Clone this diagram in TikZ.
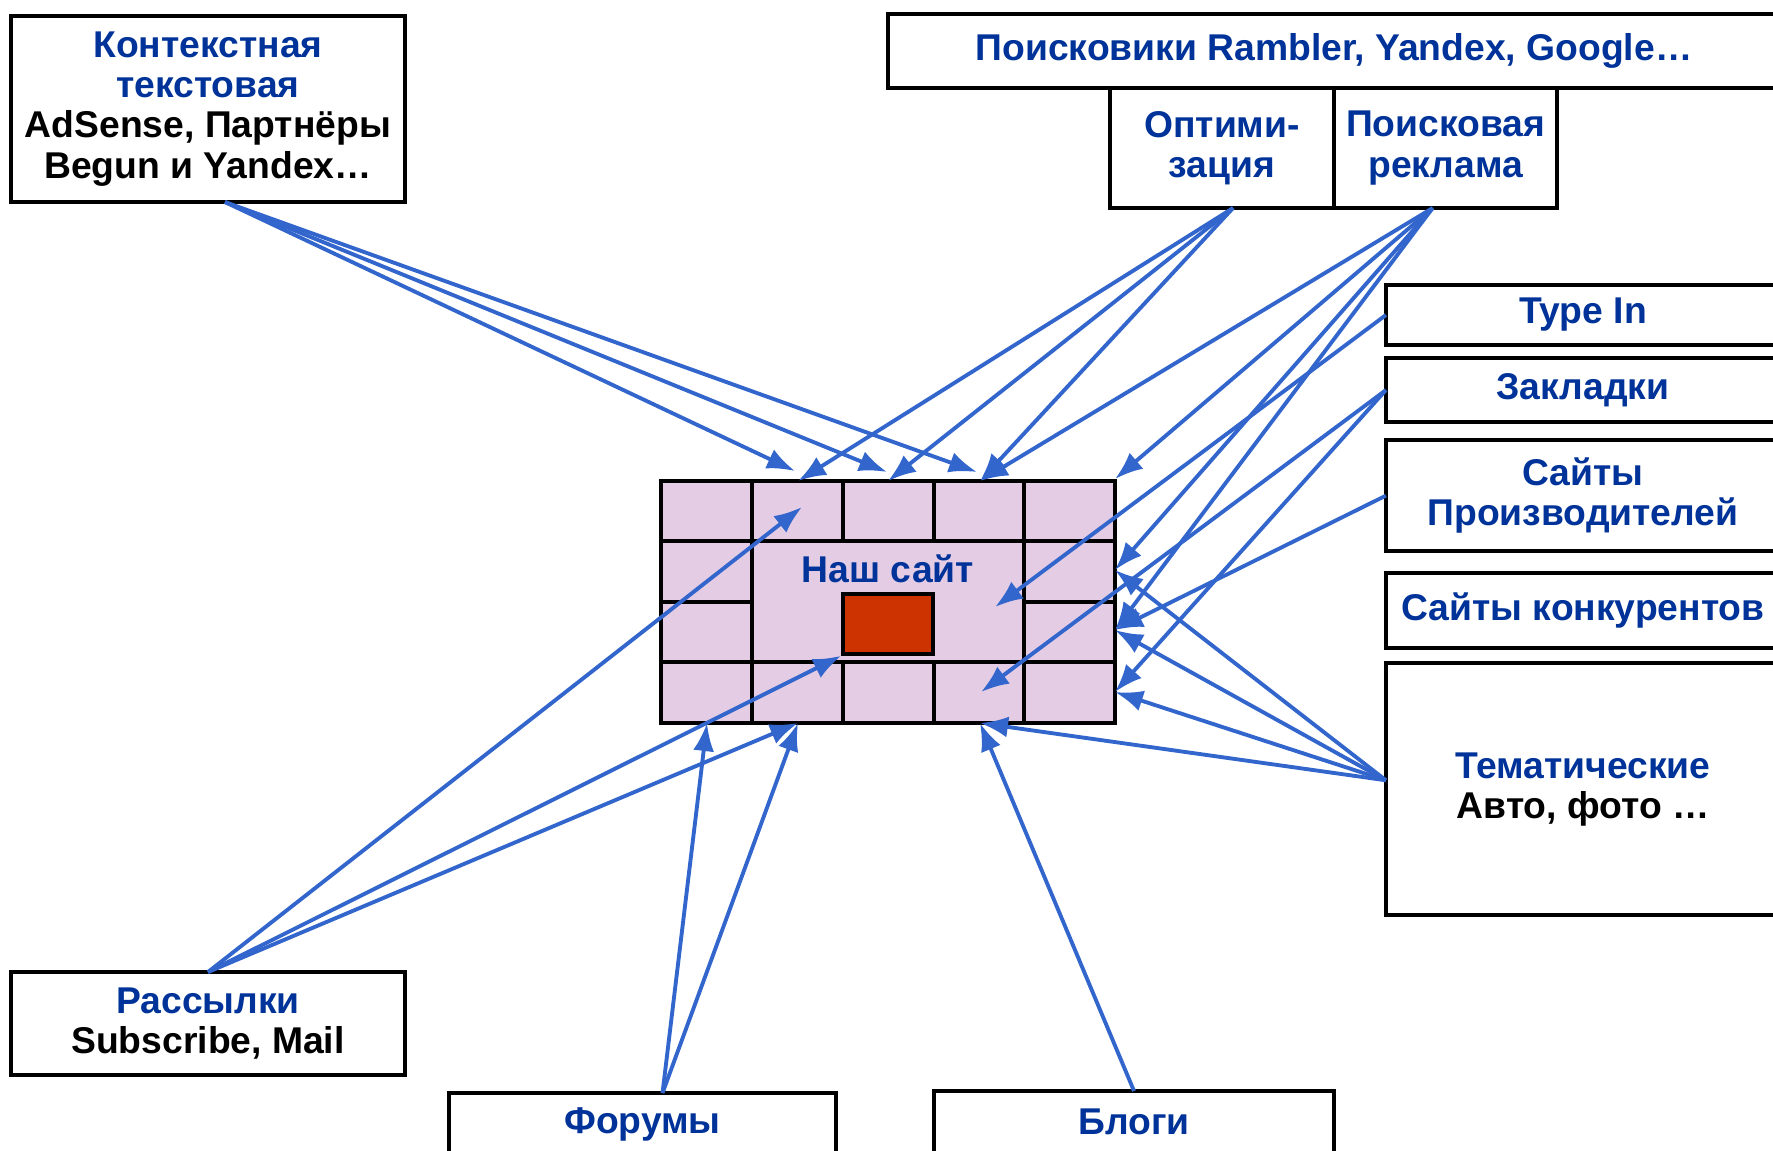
\documentclass[tikz,border=0pt]{standalone}
\usepackage{fontspec}
\setmainfont{Liberation Sans}
\usepackage{xcolor}
\usetikzlibrary{arrows.meta,positioning}

\definecolor{textblue}{RGB}{0,51,153}
\definecolor{linkblue}{RGB}{51,102,204}
\definecolor{sitepink}{RGB}{228,204,228}
\definecolor{corered}{RGB}{204,51,0}

\begin{document}
\begin{tikzpicture}[
    x=0.01cm, y=-0.01cm, % one unit = one pixel, y runs down
    box/.style={
        rectangle,
        draw,
        fill=white,
        align=center,
        inner sep=0pt,
        outer sep=0pt,
        minimum width=3.94cm,
        line width=1.15pt,
        text=textblue,
        font=\fontsize{10.6}{11.4}\selectfont\bfseries
    },
    cellline/.style={
        draw,
        line width=1pt
    },
    sitename/.style={
        text=textblue,
        font=\fontsize{10.6}{11.4}\selectfont\bfseries
    },
    link/.style={
        draw,
        -{Latex[length=0.28cm,width=0.21cm]},
        line width=1.1pt,
        color=linkblue
    }
]
    \useasboundingbox (0,0) rectangle (1773,1150);

    % --- Our site (grid of cells) ---
    \node [cellline, fill=sitepink, minimum width=4.54cm, minimum height=2.42cm,
           inner sep=0pt, outer sep=0pt] (site) at (888,602) {};
    \path [cellline] (661,541) -- (1115,541) (661,662) -- (1115,662)
        (661,602) -- (752,602) (1024,602) -- (1115,602)
        (752,481) -- (752,723) (1024,481) -- (1024,723)
        (843,481) -- (843,541) (934,481) -- (934,541)
        (843,662) -- (843,723) (934,662) -- (934,723);
    \node [cellline, fill=corered, minimum width=0.9cm, minimum height=0.6cm,
           inner sep=0pt] (core) at (888,624) {};
    \node [sitename] (name) at (888,569) {Наш сайт};

    % --- Connections ---
    % tips on the grid
    \coordinate (ka) at (795,471);
    \coordinate (kb) at (887,472);
    \coordinate (kc) at (977,472);
    \coordinate (ta) at (798,481);
    \coordinate (tb) at (888,481);
    \coordinate (tc) at (980,481);
    \coordinate (tr) at (1115,479);
    \coordinate (ra) at (1115,570);
    \coordinate (rb) at (1115,630);
    \coordinate (rc) at (1115,692);
    \coordinate (ia) at (995,607);
    \coordinate (ib) at (981,692);
    \coordinate (ic) at (802,507);
    \coordinate (ba) at (707,723);
    \coordinate (bb) at (798,723);
    \coordinate (bc) at (980,723);

    % --- Nodes ---

    % Left column
    \node [box, minimum height=1.86cm] (ctx) at (208,109)
        {Контекстная\\текстовая\\\textcolor{black}{AdSense, Партнёры}\\\textcolor{black}{Begun и Yandex…}};
    \node [box, minimum height=1.03cm] (mail) at (208,1023.5)
        {Рассылки\\\textcolor{black}{Subscribe, Mail}};

    % Top row
    \node [box, minimum width=8.92cm, minimum height=0.74cm] (search) at (1334,51)
        {Поисковики Rambler, Yandex, Google…};
    \node [box, minimum width=2.24cm, minimum height=1.2cm] (opt) at (1222,148) {Оптими-\\зация};
    \node [box, minimum width=2.23cm, minimum height=1.2cm, right=0pt of opt] (ppc) {Поисковая\\реклама};

    % Right column, stacked
    \node [box, minimum height=0.6cm] (typein) at (1583,315) {Type In};
    \node [box, minimum height=0.64cm, below=0.13cm of typein] (bookm) {Закладки};
    \node [box, minimum height=1.11cm, below=0.18cm of bookm] (makers) {Сайты\\Производителей};
    \node [box, minimum height=0.75cm, below=0.22cm of makers] (rivals) {Сайты конкурентов};
    \node [box, minimum height=2.52cm, below=0.15cm of rivals] (topic)
        {Тематические\\\textcolor{black}{Авто, фото …}};

    % Bottom row
    \node [box, minimum width=3.87cm, minimum height=0.62cm] (forum) at (642.5,1124) {Форумы};
    \node [box, minimum width=4.0cm, minimum height=0.62cm] (blogs) at (1134,1122) {Блоги};

    % 1. Context ads
    \path [link] ([xshift=0.17cm]ctx.south) -- (ka);
    \path [link] ([xshift=0.17cm]ctx.south) -- (kb);
    \path [link] ([xshift=0.17cm]ctx.south) -- (kc);

    % 2. Optimisation and search ads
    \path [link] ([xshift=0.11cm]opt.south) -- (ta);
    \path [link] ([xshift=0.11cm]opt.south) -- (tb);
    \path [link] ([xshift=0.11cm]opt.south) -- (tc);
    \path [link] ([xshift=-0.13cm]ppc.south) -- (tc);
    \path [link] ([xshift=-0.13cm]ppc.south) -- (tr);
    \path [link] ([xshift=-0.13cm]ppc.south) -- (ra);
    \path [link] ([xshift=-0.13cm]ppc.south) -- (rb);

    % 3. Right column
    \path [link] (typein.west) -- (ia);
    \path [link] (bookm.west) -- (ib);
    \path [link] (bookm.west) -- (rc);
    \path [link] (makers.west) -- (rb);
    \path [link] ([yshift=0.09cm]topic.west) -- (ra);
    \path [link] ([yshift=0.09cm]topic.west) -- (rb);
    \path [link] ([yshift=0.09cm]topic.west) -- (rc);
    \path [link] ([yshift=0.09cm]topic.west) -- (bc);

    % 4. Mailings, forums, blogs
    \path [link] (mail.north) -- (ic);
    \path [link] (mail.north) -- (core.south west);
    \path [link] (mail.north) -- (bb);
    \path [link] ([xshift=0.2cm]forum.north) -- (ba);
    \path [link] ([xshift=0.2cm]forum.north) -- (bb);
    \path [link] (blogs.north) -- (bc);

\end{tikzpicture}
\end{document}
